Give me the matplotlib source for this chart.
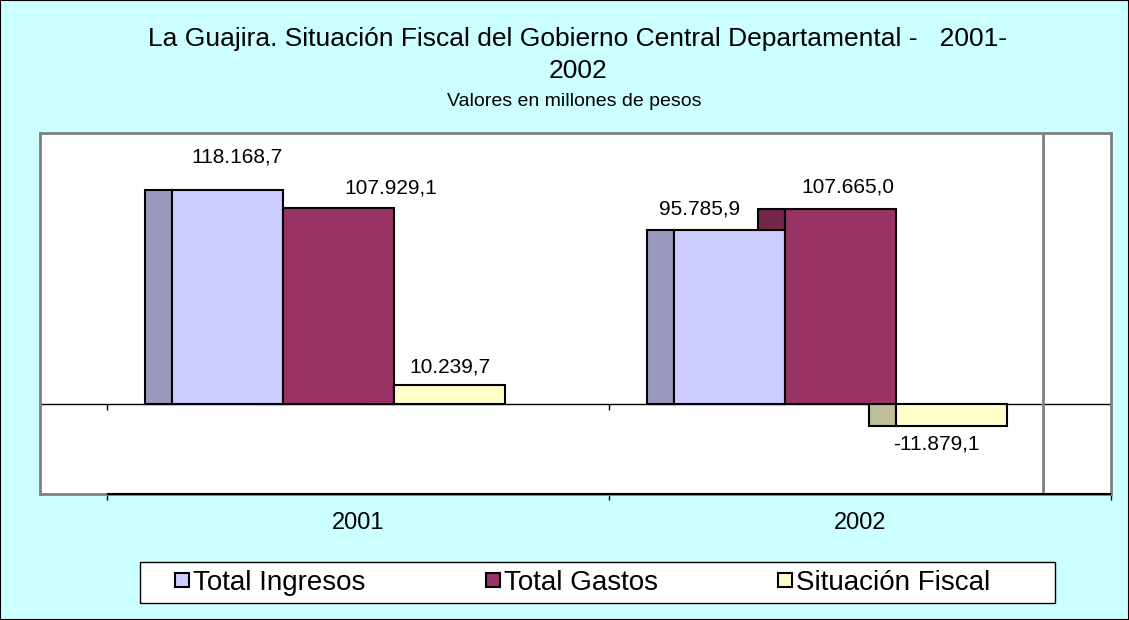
import matplotlib.pyplot as plt
import matplotlib.patches as mpatches
from matplotlib.lines import Line2D
import numpy as np

plt.rcParams['font.family'] = ['Liberation Sans', 'DejaVu Sans']

# datos (millones de pesos)
years = ['2001', '2002']
series = ['Total Ingresos', 'Total Gastos', 'Situación Fiscal']
ingresos = [118168.7, 95785.9]
gastos = [107929.1, 107665.0]
situacion = [10239.7, -11879.1]
etiquetas = [['118.168,7', '95.785,9'],
             ['107.929,1', '107.665,0'],
             ['10.239,7', '-11.879,1']]

front_colors = ['#CCCCFF', '#993366', '#FFFFCC']
side_colors = ['#9999BF', '#72264C', '#BFBF99']

# desplazamiento de las etiquetas en pixeles (estilo Excel)
label_off = [[(10, 33), (-30, 21)],
             [(52, 20), (7, 22)],
             [(0, 18), (-15, -18)]]

W, H = 1129, 620
fig = plt.figure(figsize=(W / 100, H / 100), dpi=100, facecolor='#CCFFFF')

# area de grafico en pixeles
left, top, right, bottom = 40, 133, 1111, 494
ax = fig.add_axes([left / W, 1 - bottom / H, (right - left) / W, (bottom - top) / H])
ax.set_facecolor('white')

unit = 502.0  # px por categoria
cx0 = 358.0
ax.set_xlim((left - cx0) / unit, (right - cx0) / unit)
ppk = 1.812 / 1000  # px por millon
ax.set_ylim(-(bottom - 404) / ppk, (404 - top) / ppk)

x = np.arange(len(years))
bar_w = 111 / unit
depth = 27 / unit
offsets = [-0.2600, -0.0389, 0.1823]
values = [ingresos, gastos, situacion]

# caras laterales primero, luego frentes
for i, vals in enumerate(values):
    ax.bar(x + offsets[i] - bar_w / 2 - depth / 2, vals, depth,
           color=side_colors[i], edgecolor='black', linewidth=1.5, zorder=2)
for i, vals in enumerate(values):
    ax.bar(x + offsets[i], vals, bar_w, color=front_colors[i],
           edgecolor='black', linewidth=1.5, zorder=3)
    for j, v in enumerate(vals):
        ax.annotate(etiquetas[i][j], (x[j] + offsets[i], v),
                    xytext=label_off[i][j], textcoords='offset pixels',
                    ha='center', va='center', fontsize=15, zorder=5)

ax.axhline(0, color='black', lw=1, zorder=1)
bounds = np.array([-0.5, 0.5, 1.5])
ylo = ax.get_ylim()[0]
ax.vlines(bounds, -6 / ppk, 0, color='black', lw=1, zorder=1)
ax.axvline((1043 - cx0) / unit, color='#808080', lw=2, zorder=1)
ax.hlines(ylo, -0.5, 1.5, color='black', lw=1.5, zorder=4, clip_on=False)

for s in ax.spines.values():
    s.set_color('#808080')
    s.set_linewidth(2)

ax.set_yticks([])
ax.set_xticks(bounds)
ax.set_xticklabels([])
ax.tick_params(axis='x', which='major', direction='out', length=4.5, width=1, color='black')
ax.set_xticks(x, minor=True)
ax.set_xticklabels(years, minor=True, fontsize=17)
ax.tick_params(axis='x', which='minor', length=0, pad=13)

fig.text(577 / W, 1 - 39 / H,
         'La Guajira. Situación Fiscal del Gobierno Central Departamental -   2001-',
         ha='center', va='center', fontsize=19)
fig.text(578 / W, 1 - 71 / H, '2002', ha='center', va='center', fontsize=19)
fig.text(574 / W, 1 - 101 / H, 'Valores en millones de pesos',
         ha='center', va='center', fontsize=14)

# marco de la leyenda
fig.patches.append(mpatches.Rectangle((140 / W, 1 - 603 / H), 915 / W, 41 / H,
                                      transform=fig.transFigure, fc='white',
                                      ec='black', lw=1))
handles = [Line2D([], [], ls='none', marker='s', markersize=10,
                  markerfacecolor=c, markeredgecolor='black', markeredgewidth=1.5)
           for c in front_colors]
leg = fig.legend(handles, series, loc='center', ncol=3,
                 bbox_to_anchor=(582.5 / W, 1 - 582.5 / H), fontsize=20,
                 frameon=False, handlelength=0.55, handletextpad=0.12,
                 columnspacing=4.3, borderpad=0.25)

fig.patches.append(mpatches.Rectangle((0, 0), 1, 1, transform=fig.transFigure,
                                      fill=False, ec='black', lw=1.5))

fig.savefig('out.png', dpi=100, facecolor=fig.get_facecolor())
